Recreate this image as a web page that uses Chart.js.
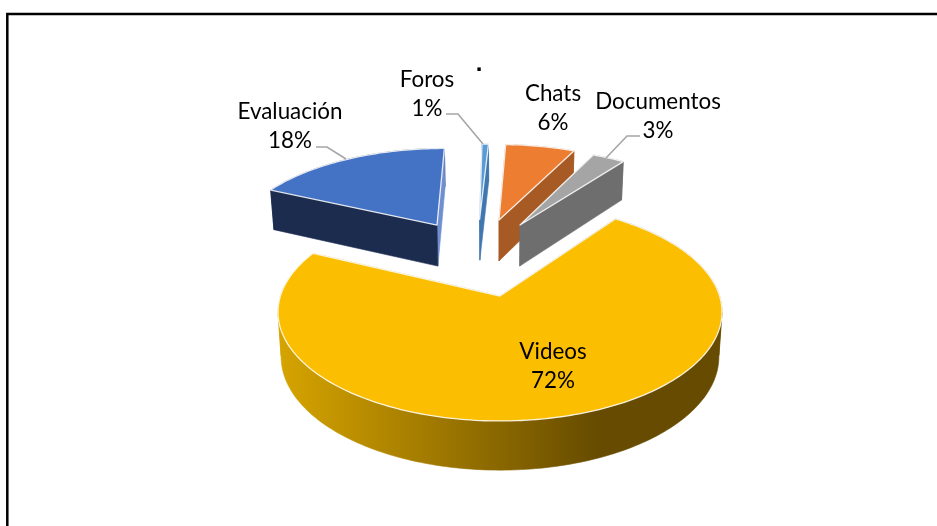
<!DOCTYPE html>
<html><head><meta charset="utf-8">
<style>html,body{margin:0;padding:0;background:#fff}canvas{display:block}</style>
<script src="https://cdn.jsdelivr.net/npm/chart.js@4"></script>
</head><body>
<canvas id="c" width="937" height="526"></canvas>
<script>
const categories = ["Evaluación","Foros","Chats","Documentos","Videos"];
const values = [18, 0.6, 6.4, 3, 72];
const topColors = ["#4472C4","#5B9BD5","#ED7D31","#A5A5A5","#FBBE00"];
const wallColors = ["#1B2C4F","#3F78B0","#A85A24","#6E6E6E","#8A6800"];
const endWallColors = ["#6F8FD0","#3F78B0","#A85A24","#6E6E6E","#8A6800"];
const explodeU = [-0.318,-0.104,-0.005,0.101,0];
const explodeV = [0.738,0.804,0.796,0.738,0];
const labelX = [290,427,553,658,553];
const labelY = [112,80,94,102,352];
const leaders = [
  [[316,147],[327,147],[346,159]],
  [[446,114],[458,114],[483,144]],
  [],
  [[640,136],[627,136],[606,158]],
  []
];
const K=0.147, CX=500, TOP={f:219.6,g:106.6,y0:296}, BOT={f:216.5,g:111,y0:340};
function proj(u,v,P){const w=1+K*v;return [CX+P.f*u/w,P.y0-P.g*v/w];}
function poly(ctx,pts,fill,stroke){ctx.beginPath();pts.forEach((p,i)=>i?ctx.lineTo(p[0],p[1]):ctx.moveTo(p[0],p[1]));ctx.closePath();
  ctx.fillStyle=fill;ctx.fill();
  ctx.strokeStyle=stroke||fill;ctx.lineWidth=stroke?1.3:0.6;ctx.lineJoin="round";ctx.stroke();}
const pie3d={id:"pie3d",
 beforeDatasetDraw(chart,args){
  const ctx=chart.ctx, arcs=chart.getDatasetMeta(0).data;
  ctx.save();
  const grad=ctx.createLinearGradient(279,0,600,0);
  grad.addColorStop(0,"#D6A400");grad.addColorStop(1,"#664B00");
  arcs.forEach((arc,i)=>{
    const ou=explodeU[i],ov=explodeV[i];
    const a0=arc.startAngle+Math.PI/2,a1=arc.endAngle+Math.PI/2;
    const n=Math.max(2,Math.ceil((a1-a0)/0.02));
    const rim=[];
    for(let s=0;s<=n;s++){const t=a0+(a1-a0)*s/n;rim.push({t,u:Math.sin(t)+ou,v:Math.cos(t)+ov});}
    const wall=i===4?grad:wallColors[i];
    const curved=(front)=>{
      let run=[];
      const flush=()=>{if(run.length>1){poly(ctx,run.map(p=>proj(p.u,p.v,TOP)).concat(run.slice().reverse().map(p=>proj(p.u,p.v,BOT))),wall);}run=[];};
      rim.forEach(p=>{if((Math.cos(p.t)<-K)===front)run.push(p);else flush();});
      flush();
    };
    const first=rim[0],last=rim[n];
    curved(false);
    poly(ctx,[proj(ou,ov,TOP),proj(last.u,last.v,TOP),proj(last.u,last.v,BOT),proj(ou,ov,BOT)],i===4?wall:endWallColors[i]);
    poly(ctx,[proj(ou,ov,TOP),proj(first.u,first.v,TOP),proj(first.u,first.v,BOT),proj(ou,ov,BOT)],wall);
    curved(true);
    const top=[proj(ou,ov,TOP)].concat(rim.map(p=>proj(p.u,p.v,TOP)));
    poly(ctx,top,topColors[i],"rgba(255,255,255,0.85)");
  });
  ctx.restore();
  return false;
 },
 afterDatasetsDraw(chart){
  const ctx=chart.ctx;
  ctx.save();
  ctx.strokeStyle="#000";ctx.lineWidth=2.5;
  ctx.beginPath();ctx.moveTo(7.3,526);ctx.lineTo(7.3,14);ctx.lineTo(937,14);ctx.stroke();
  ctx.strokeStyle="#A6A6A6";ctx.lineWidth=1.6;
  leaders.forEach(l=>{if(!l.length)return;ctx.beginPath();l.forEach((p,i)=>i?ctx.lineTo(p[0],p[1]):ctx.moveTo(p[0],p[1]));ctx.stroke();});
  ctx.fillStyle="#000";ctx.textAlign="center";ctx.textBaseline="middle";ctx.font="22.4px Lato";
  const total=values.reduce((a,b)=>a+b,0);
  categories.forEach((c,i)=>{
    ctx.fillText(c,labelX[i],labelY[i]);
    ctx.fillText(Math.round(values[i]/total*100)+"%",labelX[i],labelY[i]+28.5);
  });
  ctx.font="bold 24px 'Liberation Sans'";ctx.fillText(".",479,64);
  ctx.restore();
 }};
new Chart(document.getElementById("c"),{
  type:"pie",
  data:{labels:categories,datasets:[{data:values,backgroundColor:topColors}]},
  options:{responsive:false,animation:false,rotation:-64.8,
    plugins:{legend:{display:false},tooltip:{enabled:false}}},
  plugins:[pie3d]
});
</script>
</body></html>
